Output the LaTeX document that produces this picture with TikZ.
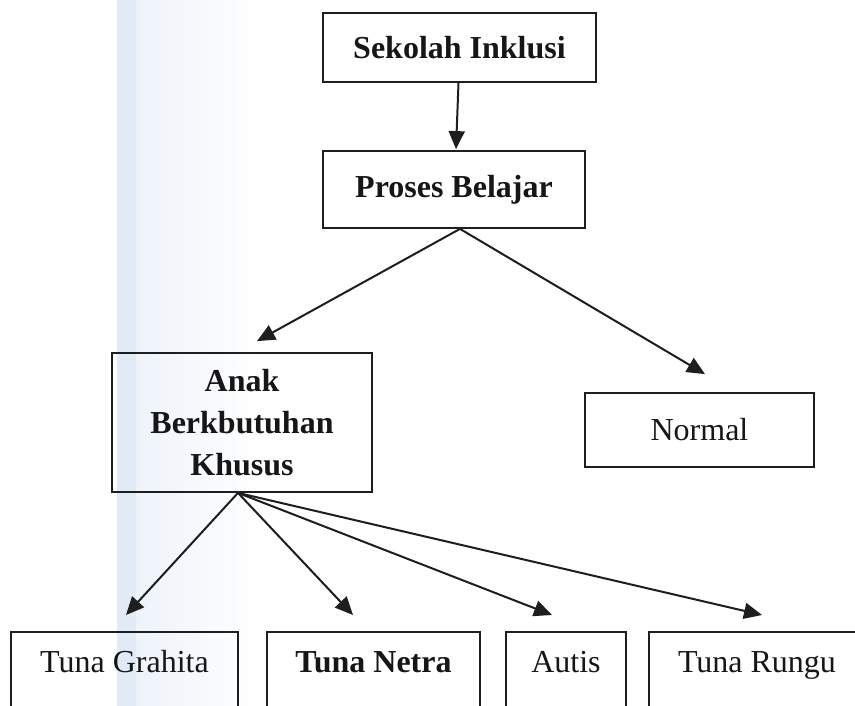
\documentclass[tikz,border=0pt]{standalone}
\usepackage{fontspec}
\setmainfont{Liberation Serif}
\usetikzlibrary{arrows.meta}
\definecolor{ink}{RGB}{22,22,22}
\definecolor{linec}{RGB}{30,30,30}
\definecolor{bandA}{RGB}{226,234,246}
\definecolor{bandB}{RGB}{238,243,250}
\tikzset{
  box/.style={draw=linec, line width=1.8pt, text=ink, font=\fontsize{32}{42}\selectfont, align=center, inner sep=0pt},
  bbox/.style={box, font=\fontsize{32}{42}\selectfont\bfseries},
  leaf/.style={box, anchor=north, text height=24pt, text depth=120pt, inner ysep=17pt, inner xsep=0pt},
  arr/.style={draw=linec, line width=2pt, -{Triangle[length=18pt,width=16pt]}}
}
\begin{document}
\begin{tikzpicture}[x=1pt,y=-1pt]
\useasboundingbox (0,0) rectangle (855,706);
\clip (0,0) rectangle (855,706);
\fill[white] (0,0) rectangle (855,706);
% scan band on the left
\fill[bandA] (117,0) rectangle (136,706);
\shade[left color=bandB, right color=white] (136,0) rectangle (262,706);

\node[bbox, minimum width=273pt, minimum height=69pt] (si) at (459.5,47.5) {Sekolah Inklusi};
\node[bbox, minimum width=262pt, minimum height=77pt] (pb) at (454,189.5) {Proses Belajar};
\node[bbox, minimum width=260pt, minimum height=139pt] (abk) at (242,422.5) {Anak\\Berkbutuhan\\Khusus};
\node[box, minimum width=229pt, minimum height=74pt] (nm) at (699.5,430) {Normal};

\node[leaf, minimum width=227pt] (tg) at (124.5,631) {Tuna Grahita};
\node[leaf, minimum width=213pt, font=\fontsize{32}{42}\selectfont\bfseries] (tn) at (373.5,631) {Tuna Netra};
\node[leaf, minimum width=120pt] (au) at (566,631) {Autis};
\node[leaf, minimum width=216pt] (tr) at (757,631) {Tuna Rungu};

\draw[arr] ([xshift=-1pt]si.south) -- ([xshift=2pt,yshift=1pt]pb.north);
\draw[arr] ([xshift=6pt]pb.south) -- ([xshift=15pt,yshift=11pt]abk.north);
\draw[arr] ([xshift=6pt]pb.south) -- ([xshift=5.5pt,yshift=18pt]nm.north);

\draw[arr] ([xshift=-4pt]abk.south) -- ([xshift=1.5pt,yshift=16pt]tg.north);
\draw[arr] ([xshift=-4pt]abk.south) -- ([xshift=-20.5pt,yshift=16pt]tn.north);
\draw[arr] ([xshift=-4pt]abk.south) -- ([xshift=-14pt,yshift=16pt]au.north);
\draw[arr] ([xshift=-4pt]abk.south) -- ([xshift=5pt,yshift=16pt]tr.north);
\end{tikzpicture}
\end{document}
